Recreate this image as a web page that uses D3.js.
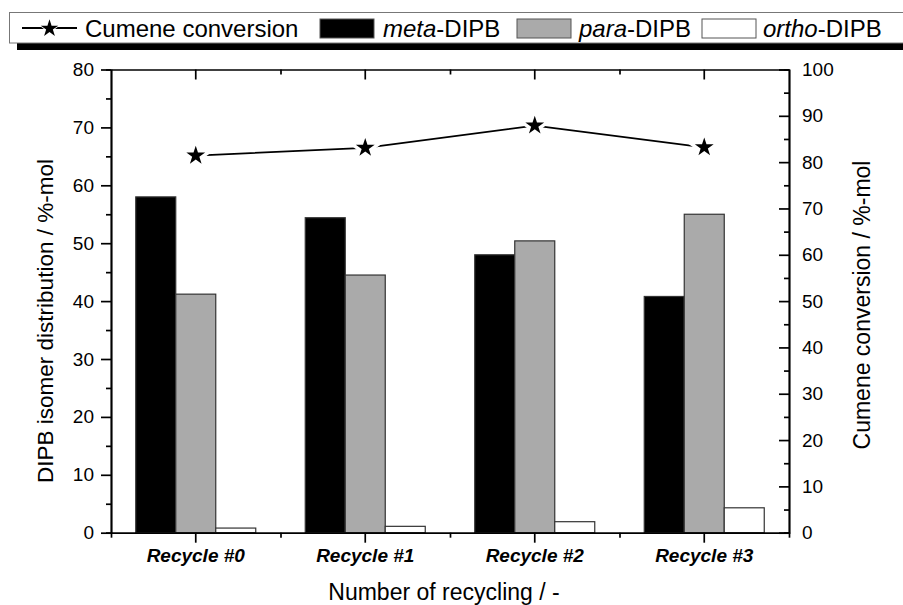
<!DOCTYPE html>
<html>
<head>
<meta charset="utf-8">
<script src="https://cdn.jsdelivr.net/npm/d3@7"></script>
<style>
  body { margin: 0; background: #fff; }
  svg { display: block; font-family: "Liberation Sans", Arial, sans-serif; }
</style>
</head>
<body>
<svg id="chart" width="903" height="605"></svg>
<script>
// data
const categories = ["Recycle #0", "Recycle #1", "Recycle #2", "Recycle #3"];
const seriesNames = ["meta", "para", "ortho"];
const metaDIPB = [58.0, 54.4, 48.0, 40.8];
const paraDIPB = [41.2, 44.5, 50.4, 55.0];
const orthoDIPB = [0.8, 1.1, 1.9, 4.3];
const cumeneConversion = [81.4, 83.1, 87.9, 83.2];
const leftTicks = [0, 10, 20, 30, 40, 50, 60, 70, 80];
const rightTicks = [0, 10, 20, 30, 40, 50, 60, 70, 80, 90, 100];

const fills = { meta: "#000000", para: "#aaaaaa", ortho: "#ffffff" };
const values = { meta: metaDIPB, para: paraDIPB, ortho: orthoDIPB };

const plotL = 111, plotR = 789, plotT = 69.5, plotB = 532.7;
const axisW = 1.7;

const svg = d3.select("#chart");

const x = d3.scaleBand().domain(categories).range([plotL, plotR]).padding(0);
const xEdge = d3.scaleLinear().domain([0, categories.length]).range([plotL, plotR]);
const xSub = d3.scaleBand().domain(seriesNames).range([-60, 60]);
const yL = d3.scaleLinear().domain([0, 80]).range([plotB, plotT]);
const yR = d3.scaleLinear().domain([0, 100]).range([plotB, plotT]);

// bars
const barData = [];
categories.forEach((c, i) => {
  seriesNames.forEach(s => barData.push({ cat: c, s: s, v: values[s][i] }));
});

svg.append("g").selectAll("rect")
  .data(barData)
  .enter()
  .append("rect")
  .attr("x", d => x(d.cat) + x.bandwidth() / 2 + xSub(d.s))
  .attr("y", d => yL(d.v))
  .attr("width", xSub.bandwidth())
  .attr("height", d => yL(0) - yL(d.v))
  .attr("fill", d => fills[d.s])
  .attr("stroke", "#333")
  .attr("stroke-width", 1.2);

// axes
function styleAxis(g) {
  g.selectAll("path, line").attr("stroke", "#000").attr("stroke-width", axisW);
  g.selectAll("text").attr("fill", "#000").attr("font-size", 19).attr("font-family", "Liberation Sans, Arial, sans-serif");
}

// left
const gl = svg.append("g").attr("transform", `translate(${plotL},0)`)
  .call(d3.axisLeft(yL).tickValues(leftTicks).tickSizeInner(10).tickSizeOuter(0).tickPadding(7));
styleAxis(gl);
const glm = svg.append("g").attr("transform", `translate(${plotL},0)`)
  .call(d3.axisLeft(yL).tickValues(d3.range(5, 80, 10)).tickSize(5).tickFormat(""));
styleAxis(glm);

// right
const gr = svg.append("g").attr("transform", `translate(${plotR},0)`)
  .call(d3.axisRight(yR).tickValues(rightTicks).tickSizeInner(-10).tickSizeOuter(0).tickPadding(13));
styleAxis(gr);
const grm = svg.append("g").attr("transform", `translate(${plotR},0)`)
  .call(d3.axisRight(yR).tickValues(d3.range(5, 100, 10)).tickSize(-5).tickFormat(""));
styleAxis(grm);

// bottom
const gb = svg.append("g").attr("transform", `translate(0,${plotB})`)
  .call(d3.axisBottom(x).tickSizeInner(10).tickSizeOuter(0));
styleAxis(gb);
gb.selectAll("text")
  .attr("y", 29).attr("dy", null)
  .attr("font-weight", "bold").attr("font-style", "italic").attr("font-size", 19);
const gbm = svg.append("g").attr("transform", `translate(0,${plotB})`)
  .call(d3.axisBottom(xEdge).tickValues(d3.range(0, 5)).tickSize(5).tickFormat(""));
styleAxis(gbm);
gbm.select(".domain").remove();

// top
const gt = svg.append("g").attr("transform", `translate(0,${plotT})`)
  .call(d3.axisTop(x).tickSizeInner(-10).tickSizeOuter(0).tickFormat(""));
styleAxis(gt);
const gtm = svg.append("g").attr("transform", `translate(0,${plotT})`)
  .call(d3.axisTop(xEdge).tickValues(d3.range(1, 4)).tickSize(-5).tickFormat(""));
styleAxis(gtm);
gtm.select(".domain").remove();

// conversion line with stars
const cx = (d, i) => x(categories[i]) + x.bandwidth() / 2;
const line = d3.line().x(cx).y(d => yR(d));
svg.append("path")
  .datum(cumeneConversion)
  .attr("d", line)
  .attr("fill", "none")
  .attr("stroke", "#000")
  .attr("stroke-width", 1.8);

const star = d3.symbol().type(d3.symbolStar).size(110);
svg.append("g").selectAll("path")
  .data(cumeneConversion)
  .enter()
  .append("path")
  .attr("d", star)
  .attr("transform", (d, i) => `translate(${cx(d, i)},${yR(d)})`)
  .attr("fill", "#fff")
  .attr("stroke", "#fff")
  .attr("stroke-width", 7);
svg.append("g").selectAll("path")
  .data(cumeneConversion)
  .enter()
  .append("path")
  .attr("d", star)
  .attr("transform", (d, i) => `translate(${cx(d, i)},${yR(d)})`)
  .attr("fill", "#000");

// axis titles
svg.append("text")
  .attr("transform", "translate(53,321) rotate(-90)")
  .attr("text-anchor", "middle")
  .attr("font-size", 22.5)
  .text("DIPB isomer distribution / %-mol");

svg.append("text")
  .attr("transform", "translate(870,305) rotate(-90)")
  .attr("text-anchor", "middle")
  .attr("font-size", 23)
  .text("Cumene conversion / %-mol");

svg.append("text")
  .attr("x", 444)
  .attr("y", 600)
  .attr("text-anchor", "middle")
  .attr("font-size", 23)
  .text("Number of recycling / -");

// legend
const lg = svg.append("g");
lg.append("rect")
  .attr("x", 17).attr("y", 19.5).attr("width", 1000).attr("height", 30.5)
  .attr("fill", "#000");
lg.append("rect")
  .attr("x", 9.5).attr("y", 12.5).attr("width", 1000).attr("height", 30.5)
  .attr("fill", "#fff").attr("stroke", "#777").attr("stroke-width", 1);

lg.append("line")
  .attr("x1", 22).attr("x2", 77).attr("y1", 28).attr("y2", 28)
  .attr("stroke", "#000").attr("stroke-width", 1.8);
lg.append("path")
  .attr("d", d3.symbol().type(d3.symbolStar).size(95)())
  .attr("transform", "translate(49.5,28.5)")
  .attr("fill", "#000")
  .attr("stroke", "#fff")
  .attr("stroke-width", 1.5)
  .attr("paint-order", "stroke");

const legendText = [
  { x: 85, parts: [["Cumene conversion", "normal"]] },
  { x: 383, parts: [["meta", "italic"], ["-DIPB", "normal"]] },
  { x: 579, parts: [["para", "italic"], ["-DIPB", "normal"]] },
  { x: 763, parts: [["ortho", "italic"], ["-DIPB", "normal"]] }
];
legendText.forEach(item => {
  const t = lg.append("text").attr("x", item.x).attr("y", 36.5).attr("font-size", 24);
  item.parts.forEach(p => t.append("tspan").attr("font-style", p[1]).text(p[0]));
});

const swatchX = { meta: 320, para: 517, ortho: 702 };
seriesNames.forEach(s => {
  lg.append("rect")
    .attr("x", swatchX[s]).attr("y", 19).attr("width", 54).attr("height", 19)
    .attr("fill", fills[s]).attr("stroke", "#555").attr("stroke-width", 1);
});
</script>
</body>
</html>
